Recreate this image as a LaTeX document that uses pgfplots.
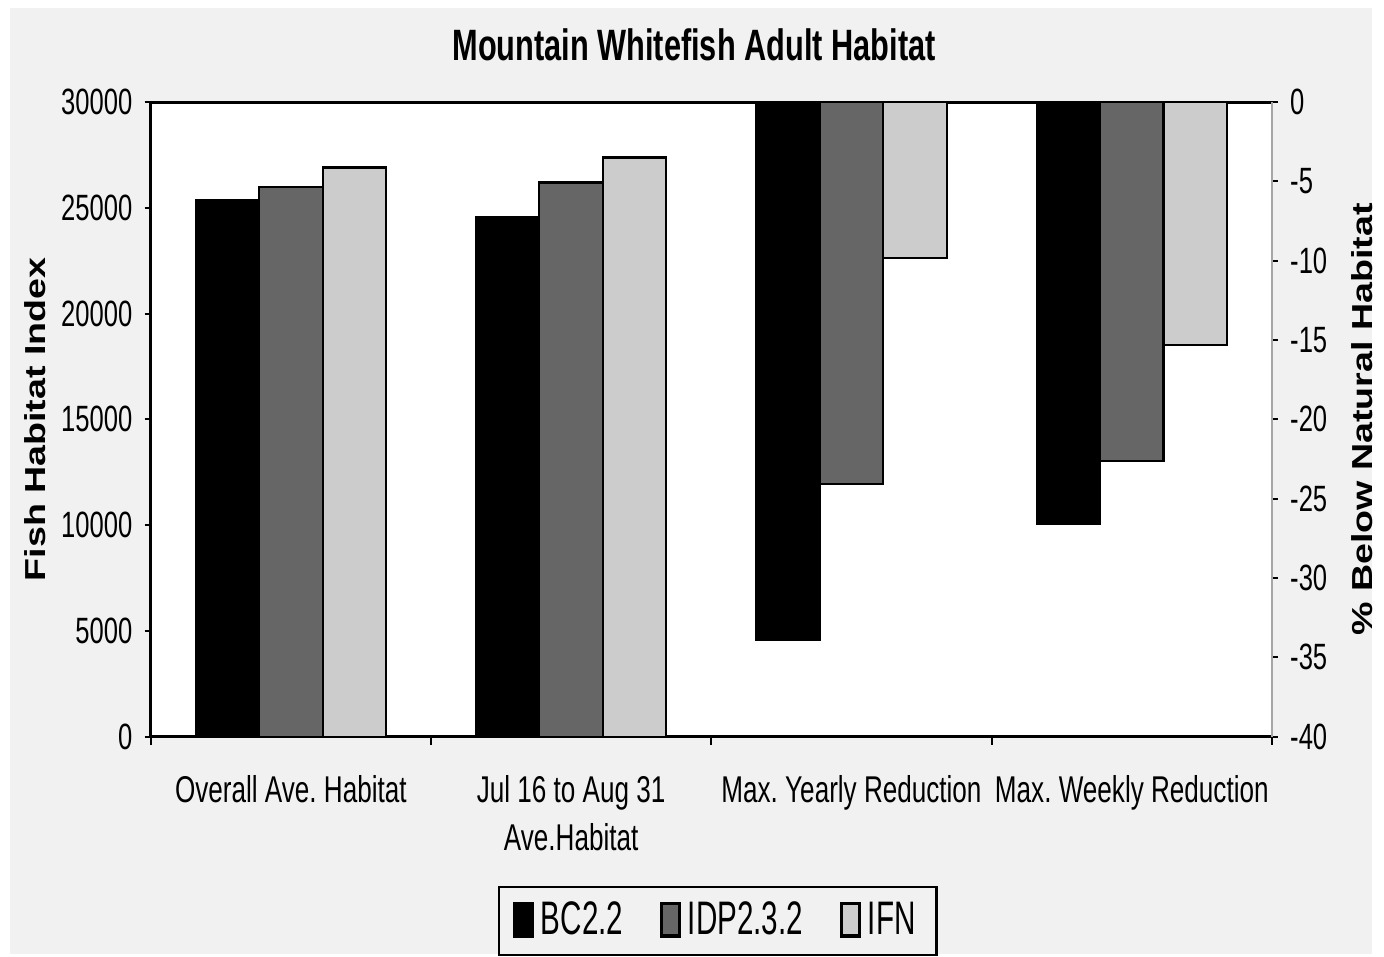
\documentclass[border=0pt]{standalone}
\usepackage{pgfplots}
\pgfplotsset{compat=1.18}
\usepackage{fontspec}
\setmainfont{Liberation Sans}
\newfontfamily\cond{Liberation Sans}[FakeStretch=0.7]
\newfontfamily\condl{Liberation Sans}[FakeStretch=0.63]
\newfontfamily\wide{Liberation Sans}[FakeStretch=1.3]
\frenchspacing

\definecolor{paper}{gray}{0.945}
\definecolor{bcfill}{gray}{0.0}
\definecolor{idpfill}{gray}{0.4}
\definecolor{ifnfill}{gray}{0.8}

% Fish habitat index (left axis)
\pgfplotstableread{
x bc idp ifn
0 25360 25970 26910
1 24570 26200 27380
}\habitat
% Percent below natural habitat (right axis)
\pgfplotstableread{
x bc idp ifn
2 -33.9 -24.1 -9.8
3 -26.6 -22.6 -15.3
}\reduction

\pgfplotsset{
  common/.style={
    at={(1.52cm,2.19cm)}, anchor=south west,
    scale only axis, width=11.31cm, height=6.40cm,
    xmin=-0.5, xmax=3.5,
    ybar=0pt, bar width=0.64cm,
    scaled y ticks=false,
    tick align=outside,
    major tick length=0.06cm,
    tick style={black, line width=0.6pt},
    axis line style={line width=0.8pt},
    tick label style={font=\cond\fontsize{10.5}{12}\selectfont},
  },
  bars/.style={draw=black, line width=0.6pt, fill=#1},
}

\begin{document}
\begin{tikzpicture}
\fill[paper] (0,0) rectangle (13.84,9.62);
\fill[white] (0,9.54) rectangle (13.84,9.62);
\fill[white] (0,0) rectangle (0.10,9.62);
\node[anchor=base, font=\cond\bfseries\fontsize{12.6}{14}\selectfont] at (7.0,9.01) {Mountain Whitefish Adult Habitat};

\begin{axis}[common,
  axis background/.style={fill=white},
  axis x line*=box, axis y line*=left,
  ymin=0, ymax=30000,
  ytick={0,5000,10000,15000,20000,25000,30000},
  yticklabels={0,5000,10000,15000,20000,25000,30000},
  ytick pos=left,
  xtick={0,1,2,3},
  xticklabels={Overall Ave. Habitat, {Jul 16 to Aug 31\\Ave.Habitat}, Max. Yearly Reduction, Max. Weekly Reduction},
  xtick pos=left,
  major x tick style={draw=none},
  minor xtick={-0.5,0.5,1.5,2.5,3.5},
  minor tick length=0.08cm,
  x tick label style={align=center, yshift=-6pt, font=\cond\fontsize{10.7}{13.7}\selectfont},
  ylabel={Fish Habitat Index},
  ylabel shift=-2.5pt,
  ylabel style={font=\wide\bfseries\fontsize{8.3}{10}\selectfont},
  legend columns=3,
  legend style={at={(0.5057,-0.2355)}, anchor=north, draw=black, line width=0.6pt, fill=paper,
    font=\condl\fontsize{13.5}{15}\selectfont, inner xsep=4pt, inner ysep=2.3pt,
    /tikz/every even column/.append style={column sep=0.3cm}},
  legend image code/.code={\draw[#1, line width=0.9pt] (0.02cm,-0.15cm) rectangle (0.2cm,0.18cm);},
]
\addplot[bars=bcfill] table[x=x, y=bc] {\habitat};
\addplot[bars=idpfill] table[x=x, y=idp] {\habitat};
\addplot[bars=ifnfill] table[x=x, y=ifn] {\habitat};
\legend{BC2.2, IDP2.3.2, IFN}
\end{axis}

\begin{axis}[common,
  axis x line=none, axis y line*=right,
  y axis line style={draw=gray!70, line width=0.6pt},
  ymin=-40, ymax=0,
  ytick={-40,-35,-30,-25,-20,-15,-10,-5,0},
  yticklabels={-40,-35,-30,-25,-20,-15,-10,-5,0},
  ylabel={\% Below Natural Habitat},
  ylabel style={font=\wide\bfseries\fontsize{8.3}{10}\selectfont},
]
\addplot[bars=bcfill] table[x=x, y=bc] {\reduction};
\addplot[bars=idpfill] table[x=x, y=idp] {\reduction};
\addplot[bars=ifnfill] table[x=x, y=ifn] {\reduction};
\end{axis}
\end{tikzpicture}
\end{document}
